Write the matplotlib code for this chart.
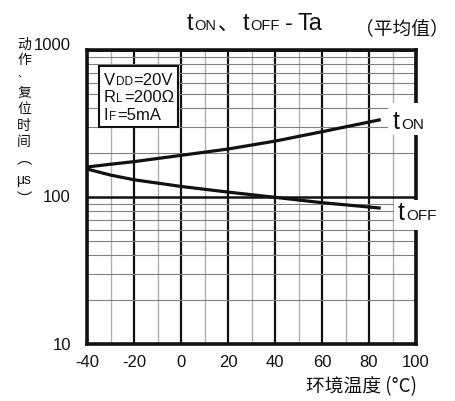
import matplotlib
matplotlib.use("Agg")
import matplotlib.pyplot as plt
from matplotlib.patches import Rectangle
from matplotlib.ticker import MultipleLocator, LogLocator, NullFormatter, FixedLocator
import matplotlib.transforms as mtransforms

# ---- data ----
temps = [-40, -30, -20, 0, 20, 40, 60, 85]
t_on = [160, 167, 174, 192, 212, 240, 278, 336]
t_off = [155, 141, 131, 118, 108, 99.5, 91.5, 84]
x_ticks = [-40, -20, 0, 20, 40, 60, 80, 100]
x_tick_labels = ["-40", "-20", "0", "20", "40", "60", "80", "100"]
y_ticks = [10, 100, 1000]
y_tick_labels = ["10", "100", "1000"]

LAT = "Liberation Sans"
CJK = "Noto Sans CJK SC"
INK = "#111111"

W, H = 455, 401
fig = plt.figure(figsize=(W / 100, H / 100), dpi=100)
fig.patch.set_facecolor("white")

def fx(px):
    return px / W

def fy(py):
    return 1 - py / H

L, R, T, B = 87, 416, 50, 344
ax = fig.add_axes([fx(L), fy(B), (R - L) / W, (B - T) / H])
ax.set_xlim(-40, 100)
ax.set_yscale("log")
ax.set_ylim(10, 1000)

ax.xaxis.set_major_locator(FixedLocator(x_ticks))
ax.xaxis.set_minor_locator(MultipleLocator(10))
ax.yaxis.set_major_locator(FixedLocator(y_ticks))
ax.yaxis.set_minor_locator(LogLocator(base=10, subs=[2, 3, 4, 5, 6, 7, 8, 9]))
ax.yaxis.set_minor_formatter(NullFormatter())

ax.grid(which="major", axis="x", color=INK, lw=1.6)
ax.grid(which="minor", axis="x", color="#b0b0b0", lw=1.0)
ax.grid(which="major", axis="y", color=INK, lw=1.8)
ax.grid(which="minor", axis="y", color="#808080", lw=0.8)
ax.set_axisbelow(True)

ax.tick_params(which="both", length=0)
ax.set_xticklabels(x_tick_labels, fontsize=12, family=LAT, color=INK)
ax.tick_params(axis="x", pad=8)
ax.set_yticklabels([])
for s in ax.spines.values():
    s.set_linewidth(2.6)
    s.set_color(INK)

# y tick labels placed manually
offs = {"10": 2, "100": 0, "1000": -5}
for v, lab in zip(y_ticks, y_tick_labels):
    tr = ax.get_yaxis_transform() + mtransforms.ScaledTranslation(-16 / 100, -offs[lab] / 100, fig.dpi_scale_trans)
    ax.text(0, v, lab, transform=tr, ha="right", va="center", fontsize=12, family=LAT, color=INK, clip_on=False)

ax.plot(temps, t_on, color=INK, lw=2.3, solid_capstyle="butt", zorder=3)
ax.plot(temps, t_off, color=INK, lw=2.3, solid_capstyle="butt", zorder=3)

renderer = fig.canvas.get_renderer()

def rich(x, y, pieces, z=7):
    cur = x
    for s, size, fam, gap in pieces:
        t = fig.text(fx(cur), fy(y), s, fontsize=size, family=fam, va="baseline",
                     ha="left", zorder=z, color=INK)
        cur += t.get_window_extent(renderer).width + gap
    return cur

def put(x, y, s, size, fam, **kw):
    return fig.text(fx(x), fy(y), s, fontsize=size, family=fam, va="baseline",
                    ha="left", color=INK, zorder=7, **kw)

# title (pieces at measured positions)
put(187, 30, "t", 17, LAT)
put(194, 30, "ON", 10.5, LAT)
put(218, 30, "、", 15, [CJK])
put(243, 30, "t", 17, LAT)
put(250, 30, "OFF", 10.5, LAT)
put(285, 30, "-", 17, LAT)
put(298, 30, "Ta", 17, LAT)
put(355, 34, "（平均值）", 13.5, [CJK])

# condition box
fig.add_artist(Rectangle((fx(98.5), fy(126.5)), (177.5 - 98.5) / W, (126.5 - 65.5) / H,
                         transform=fig.transFigure, facecolor="white", edgecolor=INK,
                         lw=1.5, zorder=5))
rich(103.5, 85, [("V", 12, LAT, 1), ("DD", 8.5, LAT, 1), ("=20V", 12, LAT, 0)])
rich(103.5, 102.5, [("R", 12, LAT, 1), ("L", 8.5, LAT, 1), ("=200Ω", 12, LAT, 0)])
rich(103.5, 120, [("I", 12, LAT, 1), ("F", 8.5, LAT, 1), ("=5mA", 12, LAT, 0)])

# curve labels with white background breaking the frame
fig.add_artist(Rectangle((fx(388), fy(135)), (W - 388) / W, 32 / H, transform=fig.transFigure,
                         facecolor="white", edgecolor="none", zorder=6))
fig.add_artist(Rectangle((fx(394), fy(230)), (W - 394) / W, 30.5 / H, transform=fig.transFigure,
                         facecolor="white", edgecolor="none", zorder=6))
rich(393, 129, [("t", 18, LAT, 1), ("ON", 11, LAT, 0)])
rich(398, 220, [("t", 18, LAT, 1), ("OFF", 11, LAT, 0)])

# y label (vertical)
ychars = [("动", 45), ("作", 60), ("复", 93), ("位", 109), ("时", 126), ("间", 142)]
for ch, yy in ychars:
    fig.text(fx(24), fy(yy), ch, fontsize=10, family=[CJK], ha="center", va="center", color=INK)
fig.text(fx(18), fy(76), "、", fontsize=7, family=[CJK], ha="left", va="baseline", color=INK)
fig.text(fx(24), fy(159), "︵", fontsize=11, family=[CJK], ha="center", va="center", color=INK)
fig.text(fx(24), fy(180), "μs", fontsize=10, family=LAT, ha="center", va="center", color=INK)
fig.text(fx(24), fy(199), "︶", fontsize=11, family=[CJK], ha="center", va="center", color=INK)

# x label
fig.text(fx(417), fy(392), "环境温度 (°C)", fontsize=13.5, family=[CJK], ha="right",
         va="baseline", color=INK)

fig.savefig("out.png", dpi=100, facecolor="white")
